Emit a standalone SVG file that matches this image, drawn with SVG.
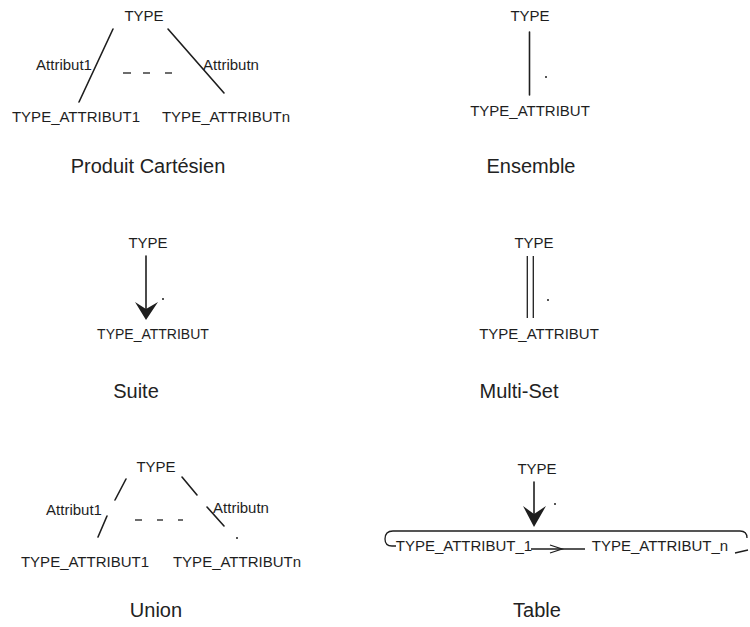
<svg xmlns="http://www.w3.org/2000/svg" width="750" height="627" viewBox="0 0 750 627">
  <style>
    .lbl { font-family: "Liberation Sans", Arial, sans-serif; font-size: 15px; fill: #1e1e1e; text-anchor: middle; }
    .small { font-size: 14px; }
    .cap { font-family: "Liberation Sans", Arial, sans-serif; font-size: 20px; fill: #222; text-anchor: middle; }
    .edge { stroke: #1e1e1e; stroke-width: 1.6; fill: none; stroke-linecap: round; }
    .thin { stroke: #1e1e1e; stroke-width: 1.3; fill: none; }
    .dot { fill: #1e1e1e; }
    .head { fill: #1e1e1e; stroke: none; }
  </style>
  <rect width="750" height="627" fill="#ffffff"/>

  <!-- Produit Cartesien -->
  <g id="produit">
    <text class="lbl" x="144" y="21">TYPE</text>
    <text class="lbl" x="64" y="70">Attribut1</text>
    <text class="lbl" x="231" y="70">Attributn</text>
    <text class="lbl" x="76" y="122">TYPE_ATTRIBUT1</text>
    <text class="lbl" x="226" y="122">TYPE_ATTRIBUTn</text>
    <text class="cap" x="148" y="173">Produit Cartésien</text>
  </g>

  <!-- Ensemble -->
  <g id="ensemble">
    <text class="lbl" x="530" y="21">TYPE</text>
    <text class="lbl" x="530" y="116">TYPE_ATTRIBUT</text>
    <text class="cap" x="531" y="173">Ensemble</text>
  </g>

  <!-- Suite -->
  <g id="suite">
    <text class="lbl" x="148" y="248">TYPE</text>
    <text class="lbl small" x="153" y="339">TYPE_ATTRIBUT</text>
    <text class="cap" x="136" y="398">Suite</text>
  </g>

  <!-- Multi-Set -->
  <g id="multiset">
    <text class="lbl" x="534" y="248">TYPE</text>
    <text class="lbl" x="539" y="339">TYPE_ATTRIBUT</text>
    <text class="cap" x="519" y="398">Multi-Set</text>
  </g>

  <!-- Union -->
  <g id="union">
    <text class="lbl" x="156" y="472">TYPE</text>
    <text class="lbl" x="74" y="515">Attribut1</text>
    <text class="lbl" x="241" y="513">Attributn</text>
    <text class="lbl" x="85" y="567">TYPE_ATTRIBUT1</text>
    <text class="lbl" x="237" y="567">TYPE_ATTRIBUTn</text>
    <text class="cap" x="156" y="617">Union</text>
  </g>

  <!-- Table -->
  <g id="table">
    <text class="lbl" x="537" y="474">TYPE</text>
    <text class="lbl" x="464" y="551">TYPE_ATTRIBUT_1</text>
    <text class="lbl" x="660" y="551">TYPE_ATTRIBUT_n</text>
    <text class="cap" x="537" y="617">Table</text>
  </g>

  <g id="connectors">
    <!-- Produit Cartesien -->
    <line class="edge" x1="113" y1="29" x2="79" y2="102"/>
    <line class="edge" x1="168" y1="29" x2="224" y2="93"/>
    <line class="thin" x1="123" y1="73" x2="131" y2="73"/>
    <line class="thin" x1="143" y1="73" x2="150" y2="73"/>
    <line class="thin" x1="165" y1="73" x2="172" y2="73"/>

    <!-- Ensemble -->
    <line class="edge" x1="529.5" y1="32" x2="529.5" y2="95"/>
    <circle class="dot" cx="546" cy="77" r="1"/>

    <!-- Suite -->
    <line class="edge" x1="146" y1="256" x2="146" y2="312"/>
    <polygon class="head" points="146,320 135,302 146,309 158,302"/>
    <circle class="dot" cx="163" cy="299" r="1"/>

    <!-- Multi-Set -->
    <line class="thin" x1="527.3" y1="256" x2="527.3" y2="318"/>
    <line class="thin" x1="533.3" y1="256" x2="533.3" y2="318"/>
    <circle class="dot" cx="548" cy="300" r="1"/>

    <!-- Union -->
    <line class="edge" x1="126" y1="479" x2="115" y2="500"/>
    <line class="edge" x1="107" y1="516" x2="98" y2="537"/>
    <line class="edge" x1="182" y1="477" x2="197" y2="495"/>
    <line class="edge" x1="207" y1="507" x2="224" y2="526"/>
    <line class="thin" x1="135" y1="520" x2="142" y2="520"/>
    <line class="thin" x1="157" y1="520" x2="163" y2="520"/>
    <line class="thin" x1="178" y1="520" x2="183" y2="520"/>
    <circle class="dot" cx="237" cy="538" r="1"/>

    <!-- Table -->
    <line class="edge" x1="534" y1="482" x2="534" y2="518"/>
    <polygon class="head" points="534,527 523,506 534,514 546,506"/>
    <circle class="dot" cx="555" cy="504" r="1"/>
    <path class="thin" d="M396 546 L392 546 Q385 546 385 539 Q385 531 393 531 L740 531 Q747 531 747 538"/>
    <line class="thin" x1="735" y1="553" x2="748" y2="550"/>
    <line class="thin" x1="531" y1="549" x2="585" y2="549"/>
    <polyline class="thin" points="550,545 562,549 550,553"/>
  </g>
</svg>
